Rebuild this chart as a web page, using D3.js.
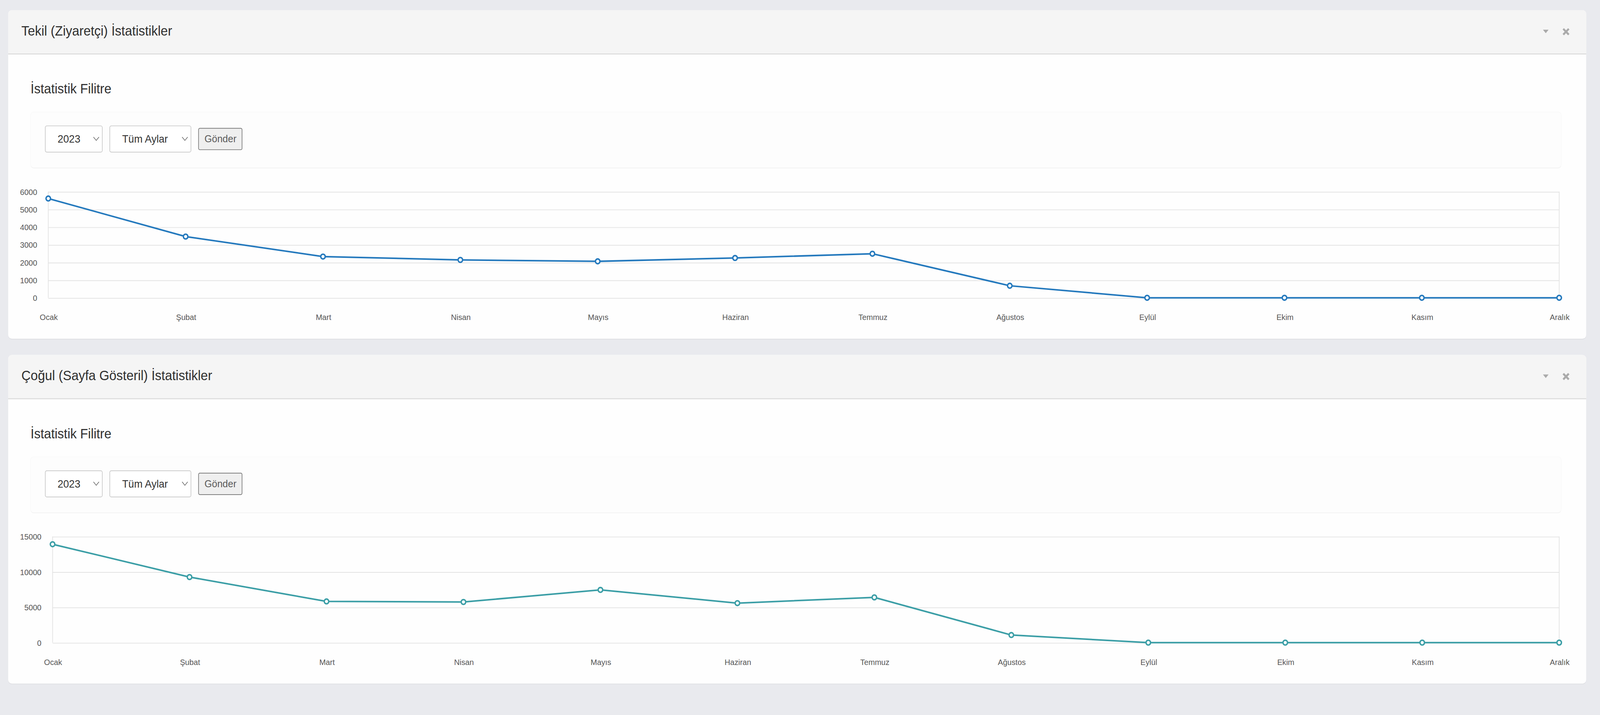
<!DOCTYPE html>
<html>
<head>
<meta charset="utf-8">
<title>İstatistikler</title>
<script src="https://cdnjs.cloudflare.com/ajax/libs/d3/7.8.5/d3.min.js"></script>
<style>
  html, body { margin: 0; padding: 0; background: #e9eaee; overflow: hidden; }
  svg { display: block; }
  text { font-family: "Liberation Sans", Arial, Helvetica, sans-serif; }
</style>
</head>
<body>
<div id="page"></div>
<script>
// chart values
const months = ['Ocak', 'Şubat', 'Mart', 'Nisan', 'Mayıs', 'Haziran', 'Temmuz', 'Ağustos', 'Eylül', 'Ekim', 'Kasım', 'Aralık']
const tekilValues = [5610, 3460, 2330, 2140, 2060, 2250, 2490, 680, 0, 0, 0, 0]
const cogulValues = [13900, 9260, 5820, 5740, 7450, 5580, 6390, 1070, 0, 0, 0, 0]
const tekilTicks = [0, 1000, 2000, 3000, 4000, 5000, 6000]
const cogulTicks = [0, 5000, 10000, 15000]
const panelTitles = ['Tekil (Ziyaretçi) İstatistikler', 'Çoğul (Sayfa Gösteril) İstatistikler']
const filterTitle = 'İstatistik Filitre'
const yearLabel = '2023'
const monthLabel = 'Tüm Aylar'
const buttonLabel = 'Gönder'

// layout is done in a 1568 x 662.7 space and stretched over the window
const vw = 1568, vh = 1568 * 1830 / 4330
const W = window.innerWidth || 4330
const H = window.innerHeight || 1830

const panels = [
  { title: panelTitles[0], values: tekilValues, ticks: tekilTicks, color: '#2479bd', top: 9.4 },
  { title: panelTitles[1], values: cogulValues, ticks: cogulTicks, color: '#3b9ea6', top: 329 }
]

const svg = d3.select('#page')
  .append('svg')
    .attr('width', W)
    .attr('height', H)
    .attr('viewBox', '0 0 ' + vw + ' ' + vh)
    .attr('preserveAspectRatio', 'none')

svg.append('rect')
  .attr('width', vw).attr('height', vh)
  .attr('fill', '#e9eaee')

function panel (p) {
  var g = svg.append('g').attr('transform', 'translate(0,' + p.top + ')')
  var cardX = 8, cardW = 1546.5, cardH = 304.6, headH = 40.6

  // card + soft shadow
  g.append('rect')
    .attr('x', cardX).attr('y', 0.6)
    .attr('width', cardW).attr('height', cardH)
    .attr('rx', 3.6).attr('fill', '#dcdde1')
  g.append('rect')
    .attr('x', cardX).attr('y', 0)
    .attr('width', cardW).attr('height', cardH)
    .attr('rx', 3.6).attr('fill', '#fefefe')

  // header
  g.append('path')
    .attr('d', 'M' + cardX + ',' + headH + 'V3.6A3.6,3.6 0 0 1 ' + (cardX + 3.6) + ',0H' +
      (cardX + cardW - 3.6) + 'A3.6,3.6 0 0 1 ' + (cardX + cardW) + ',3.6V' + headH + 'Z')
    .attr('fill', '#f5f5f5')
  g.append('line')
    .attr('x1', cardX).attr('x2', cardX + cardW)
    .attr('y1', headH).attr('y2', headH)
    .attr('stroke', '#d8d8d8').attr('stroke-width', 0.8)

  g.append('text')
    .attr('x', 21).attr('y', 23.4)
    .attr('font-size', 12.6).attr('fill', '#2f2f2f')
    .text(p.title)

  // collapse caret and close cross
  g.append('path')
    .attr('d', 'M1512.1,18.1H1517.6L1514.85,21.4Z')
    .attr('fill', '#aaa')
  g.append('path')
    .attr('transform', 'translate(1534.7,20)')
    .attr('d', 'M-2.7,-2.7L2.7,2.7M2.7,-2.7L-2.7,2.7')
    .attr('stroke', '#aaa').attr('stroke-width', 1.9)

  g.append('text')
    .attr('x', 30).attr('y', 77.2)
    .attr('font-size', 12.5).attr('fill', '#2f2f2f')
    .text(filterTitle)

  // filter box
  g.append('rect')
    .attr('x', 30).attr('y', 94.9)
    .attr('width', 1500).attr('height', 51.7)
    .attr('rx', 3).attr('fill', '#efefef')
  g.append('rect')
    .attr('x', 30).attr('y', 94.4)
    .attr('width', 1500).attr('height', 51.6)
    .attr('rx', 3).attr('fill', '#fdfdfd')
    .attr('stroke', '#f7f7f7').attr('stroke-width', 0.4)

  var selects = [
    { x: 44.4, w: 55.8, label: yearLabel },
    { x: 107.6, w: 79.5, label: monthLabel }
  ]
  var sel = g.selectAll('g.select')
    .data(selects)
    .enter()
    .append('g')
      .attr('class', 'select')
      .attr('transform', (d) => 'translate(' + d.x + ',107.3)')
  sel.append('rect')
    .attr('width', (d) => d.w).attr('height', 24.3)
    .attr('rx', 1.5).attr('fill', '#fff')
    .attr('stroke', '#c6c6c6').attr('stroke-width', 0.6)
  sel.append('text')
    .attr('x', 12.1).attr('y', 15.5)
    .attr('font-size', 10).attr('fill', '#333')
    .text((d) => d.label)
  sel.append('path')
    .attr('d', (d) => 'M' + (d.w - 8.6) + ',10.3L' + (d.w - 5.9) + ',13.5L' + (d.w - 3.2) + ',10.3')
    .attr('fill', 'none').attr('stroke', '#555').attr('stroke-width', 0.5)

  var btn = g.append('g').attr('transform', 'translate(194.6,109.5)')
  btn.append('rect')
    .attr('width', 42.6).attr('height', 19.9)
    .attr('rx', 1.3).attr('fill', '#efefef')
    .attr('stroke', '#707070').attr('stroke-width', 0.6)
  btn.append('text')
    .attr('x', 5.8).attr('y', 12.9)
    .attr('font-size', 9.4).attr('fill', '#5a5a5a')
    .text(buttonLabel)

  chart(g, p)
}

function chart (g, p) {
  var fontSize = 7.56
  var plotTop = 168.2, plotBottom = 266.6, plotRight = 1528
  var labelLeft = 19.6, gap = 10.9

  // y labels decide where the plot starts
  var probe = g.append('text').attr('font-size', fontSize)
  var maxW = d3.max(p.ticks, (t) => probe.text(String(t)).node().getComputedTextLength())
  probe.remove()
  var plotLeft = labelLeft + maxW + gap

  var x = d3.scalePoint()
    .domain(months)
    .range([plotLeft, plotRight])
  var y = d3.scaleLinear()
    .domain([0, d3.max(p.ticks)])
    .range([plotBottom, plotTop])

  var yAxis = g.append('g')
    .attr('transform', 'translate(' + plotLeft + ',0)')
    .call(d3.axisLeft(y)
      .tickValues(p.ticks)
      .tickFormat((d) => String(d))
      .tickSize(-(plotRight - plotLeft))
      .tickPadding(gap))
  yAxis.select('.domain').remove()
  yAxis.selectAll('line').attr('stroke', '#e3e3e3').attr('stroke-width', 0.7)
  yAxis.selectAll('text')
    .attr('font-size', fontSize).attr('fill', '#555')
    .attr('font-family', '"Liberation Sans", Arial, sans-serif')

  // plot edges
  g.selectAll('line.edge')
    .data([plotLeft, plotRight])
    .enter()
    .append('line')
      .attr('class', 'edge')
      .attr('x1', (d) => d).attr('x2', (d) => d)
      .attr('y1', plotTop).attr('y2', plotBottom)
      .attr('stroke', '#e3e3e3').attr('stroke-width', 0.7)

  var xAxis = g.append('g')
    .attr('transform', 'translate(0,' + plotBottom + ')')
    .call(d3.axisBottom(x).tickSize(0).tickPadding(15.3))
  xAxis.select('.domain').remove()
  xAxis.selectAll('text')
    .attr('font-size', fontSize).attr('fill', '#555')
    .attr('font-family', '"Liberation Sans", Arial, sans-serif')

  var line = d3.line()
    .x((d, i) => x(months[i]))
    .y((d) => y(d))

  g.append('path')
    .datum(p.values)
    .attr('d', line)
    .attr('fill', 'none')
    .attr('stroke', p.color)
    .attr('stroke-width', 1.45)
    .attr('stroke-linejoin', 'round')

  g.selectAll('circle.pt')
    .data(p.values)
    .enter()
    .append('circle')
      .attr('class', 'pt')
      .attr('cx', (d, i) => x(months[i]))
      .attr('cy', (d) => y(d))
      .attr('r', 2.2)
      .attr('fill', '#fff')
      .attr('stroke', p.color)
      .attr('stroke-width', 1.4)
}

panels.forEach(panel)
</script>
</body>
</html>
